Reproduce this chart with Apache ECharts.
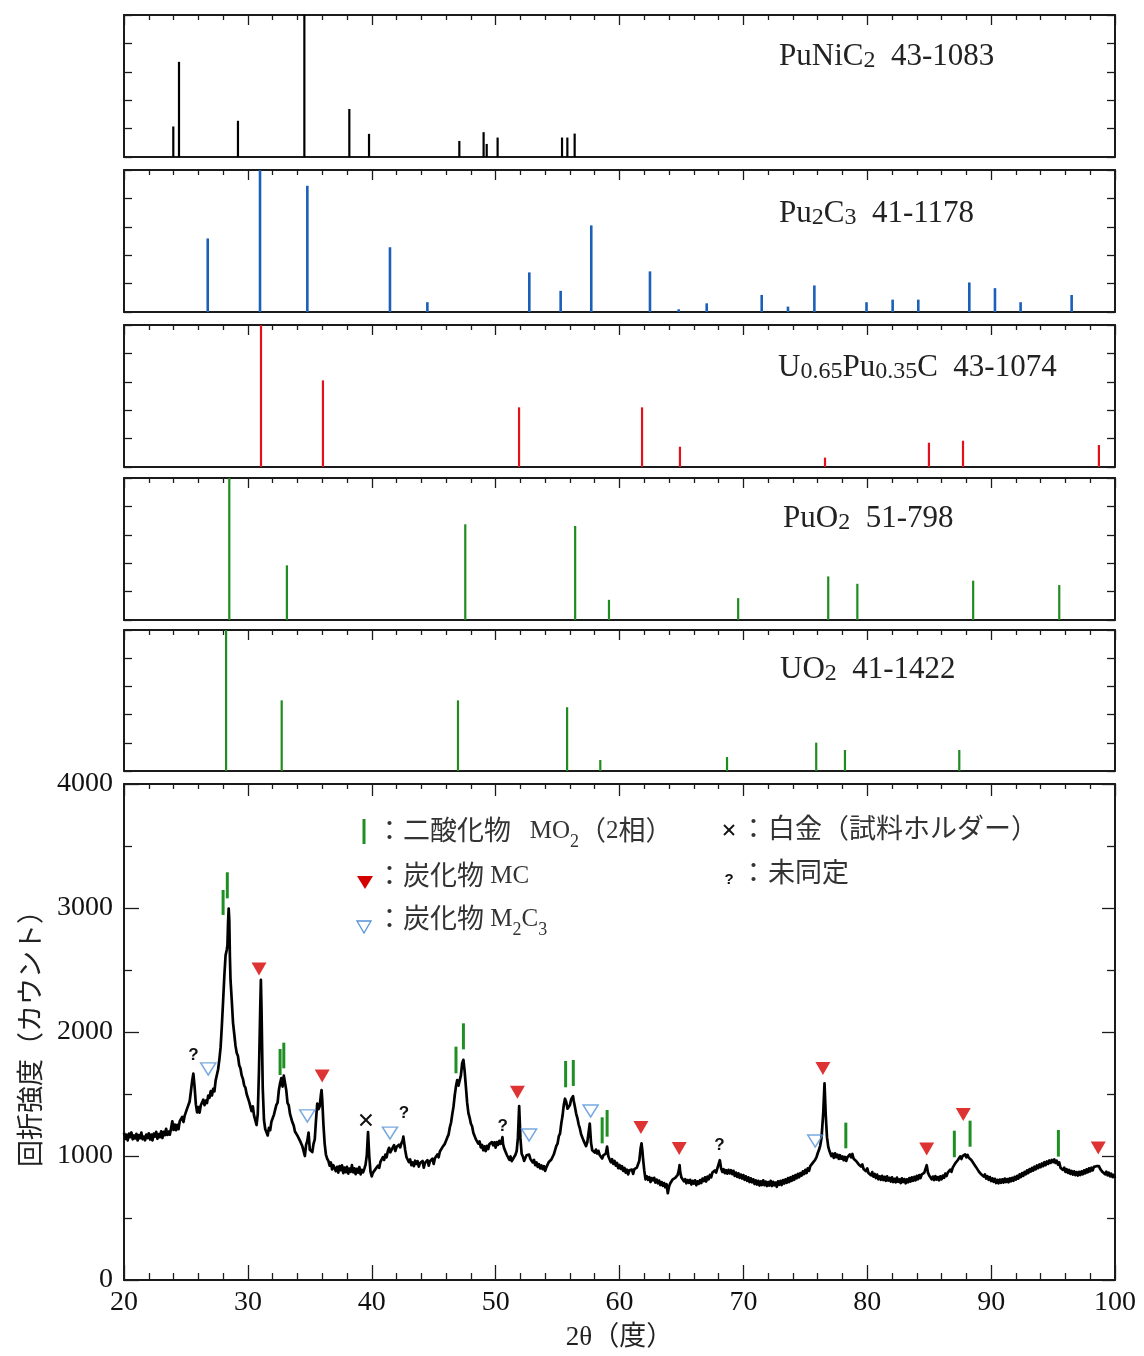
<!DOCTYPE html>
<html>
<head>
<meta charset="utf-8">
<title>XRD</title>
<script src="https://cdn.jsdelivr.net/npm/echarts@6/dist/echarts.min.js"></script>
<style>
  html, body { margin: 0; padding: 0; background: #ffffff; }
  #chart { width: 1144px; height: 1356px; }
</style>
</head>
<body>
<div id="chart"></div>
<script>
// ---- Reference stick patterns: [2θ (deg), relative intensity (%)] ----
const puNiC2Peaks = [[23.98, 21.5], [24.44, 67], [29.2, 25.5], [34.56, 100], [38.19, 33.8], [39.78, 16.3],
  [47.07, 11.3], [49.03, 17.5], [49.28, 9.2], [50.16, 13.7], [55.36, 13.7], [55.79, 13.7], [56.38, 16.5]];
const pu2C3Peaks = [[26.76, 51.8], [30.98, 100], [34.8, 88.9], [41.47, 45.6], [44.49, 6.9], [52.72, 27.9],
  [55.25, 14.9], [57.72, 61], [62.46, 28.6], [64.78, 1.9], [67.04, 6.1], [71.48, 12], [73.6, 3.8],
  [75.73, 18.7], [79.94, 6.9], [82.05, 8.7], [84.12, 8.7], [88.24, 20.8], [90.31, 16.8], [92.38, 6.9], [96.5, 12]];
const upcPeaks = [[31.06, 100], [36.06, 61], [51.89, 42], [61.82, 42], [64.88, 14.3], [76.59, 6.6],
  [84.98, 17.1], [87.73, 18.5], [98.7, 15.5]];
const puO2Peaks = [[28.5, 100], [33.15, 38.5], [47.55, 67.4], [56.42, 66.2], [59.15, 14.2], [69.58, 15.4],
  [76.85, 30.7], [79.2, 25.5], [88.55, 27.7], [95.5, 24.6]];
const uO2Peaks = [[28.24, 100], [32.73, 50.1], [46.96, 50.1], [55.77, 45.2], [58.45, 7.8], [68.68, 9.9],
  [75.88, 20.1], [78.2, 14.9], [87.43, 14.9]];

// ---- Measured pattern: [2θ (deg), counts] ----
const scanPattern = [
  [20.0,1188],[20.1,1138],[20.2,1172],[20.3,1126],[20.4,1180],[20.5,1152],[20.6,1190],[20.7,1134],[20.8,1166],[20.9,1142],
  [21.0,1179],[21.1,1125],[21.2,1169],[21.3,1143],[21.4,1189],[21.5,1135],[21.6,1157],[21.7,1127],[21.8,1173],[21.9,1145],
  [22.0,1183],[22.1,1133],[22.2,1172],[22.3,1126],[22.4,1180],[22.5,1157],[22.6,1195],[22.7,1139],[22.8,1176],[22.9,1152],
  [23.0,1199],[23.1,1145],[23.2,1194],[23.3,1168],[23.4,1219],[23.5,1170],[23.6,1197],[23.7,1172],[23.8,1223],[23.9,1280],
  [24.0,1210],[24.1,1253],[24.2,1208],[24.3,1252],[24.4,1216],[24.5,1280],[24.6,1267],[24.7,1315],[24.8,1274],[24.9,1326],
  [25.0,1322],[25.1,1384],[25.2,1370],[25.3,1440],[25.4,1520],[25.5,1604],[25.6,1665],[25.7,1556],[25.8,1418],[25.9,1352],
  [26.0,1395],[26.1,1350],[26.2,1409],[26.3,1393],[26.4,1454],[26.5,1410],[26.6,1447],[26.7,1427],[26.8,1488],[26.9,1470],
  [27.0,1523],[27.1,1488],[27.2,1542],[27.3,1521],[27.4,1610],[27.5,1622],[27.6,1700],[27.7,1780],[27.8,1878],[27.9,2052],
  [28.0,2248],[28.1,2452],[28.2,2618],[28.3,2664],[28.35,2702],[28.4,2880],[28.45,2995],[28.5,2902],[28.55,2604],[28.6,2418],
  [28.7,2254],[28.8,2076],[28.9,1984],[29.0,1890],[29.1,1830],[29.2,1806],[29.3,1732],[29.4,1708],[29.5,1650],[29.6,1622],
  [29.7,1570],[29.8,1552],[29.9,1500],[30.0,1506],[30.1,1438],[30.2,1436],[30.3,1362],[30.4,1400],[30.5,1326],[30.6,1330],
  [30.7,1250],[30.8,1340],[30.9,1700],[31.0,2204],[31.05,2420],[31.1,2196],[31.2,1548],[31.3,1290],[31.4,1218],[31.5,1210],
  [31.6,1166],[31.7,1226],[31.8,1208],[31.9,1276],[32.0,1280],[32.1,1332],[32.2,1340],[32.3,1412],[32.4,1430],[32.5,1530],
  [32.6,1586],[32.7,1628],[32.8,1560],[32.9,1648],[33.0,1650],[33.1,1530],[33.2,1428],[33.3,1408],[33.4,1340],[33.5,1330],
  [33.6,1270],[33.7,1246],[33.8,1198],[33.9,1210],[34.0,1164],[34.1,1176],[34.2,1124],[34.3,1126],[34.4,1078],[34.5,1074],
  [34.6,1000],[34.7,1090],[34.8,1124],[34.9,1188],[35.0,1050],[35.1,1040],[35.2,1032],[35.3,1098],[35.4,1134],[35.5,1290],
  [35.6,1422],[35.7,1378],[35.8,1402],[35.9,1498],[35.95,1532],[36.0,1458],[36.1,1252],[36.2,1098],[36.3,1012],[36.4,978],
  [36.5,960],[36.6,922],[36.7,948],[36.8,892],[36.9,926],[37.0,930],[37.1,878],[37.2,912],[37.3,866],[37.4,918],
  [37.5,886],[37.6,924],[37.7,862],[37.8,906],[37.9,870],[38.0,912],[38.1,858],[38.2,898],[38.3,872],[38.4,926],
  [38.5,868],[38.6,900],[38.7,854],[38.8,896],[38.9,866],[39.0,910],[39.1,852],[39.2,888],[39.3,868],[39.4,896],
  [39.5,930],[39.6,1004],[39.7,1192],[39.8,996],[39.9,872],[40.0,836],[40.1,866],[40.2,852],[40.3,894],[40.4,878],
  [40.5,922],[40.6,904],[40.7,952],[40.8,942],[40.9,990],[41.0,968],[41.1,1012],[41.2,990],[41.3,1040],[41.4,1066],
  [41.5,1030],[41.6,1050],[41.7,1046],[41.8,1088],[41.9,1040],[42.0,1072],[42.1,1058],[42.2,1092],[42.3,1070],[42.4,1104],
  [42.5,1126],[42.55,1156],[42.6,1120],[42.7,1048],[42.8,992],[42.9,988],[43.0,950],[43.1,972],[43.2,926],[43.3,948],
  [43.4,918],[43.5,962],[43.6,936],[43.7,958],[43.8,914],[43.9,944],[44.0,930],[44.1,960],[44.2,906],[44.3,944],
  [44.4,928],[44.5,966],[44.6,922],[44.7,958],[44.8,948],[44.9,978],[45.0,936],[45.1,982],[45.2,970],[45.3,1012],
  [45.4,990],[45.5,1036],[45.6,1022],[45.7,1070],[45.8,1058],[45.9,1098],[46.0,1104],[46.1,1150],[46.2,1172],[46.3,1230],
  [46.4,1268],[46.5,1336],[46.6,1398],[46.7,1490],[46.8,1562],[46.9,1612],[47.0,1568],[47.1,1556],[47.2,1652],[47.3,1748],
  [47.4,1776],[47.5,1682],[47.6,1558],[47.7,1432],[47.8,1348],[47.9,1310],[48.0,1262],[48.1,1240],[48.2,1188],[48.3,1176],
  [48.4,1136],[48.5,1146],[48.6,1100],[48.7,1118],[48.8,1070],[48.9,1090],[49.0,1046],[49.1,1078],[49.2,1040],[49.3,1082],
  [49.4,1056],[49.5,1096],[49.6,1080],[49.7,1112],[49.8,1086],[49.9,1110],[50.0,1068],[50.1,1112],[50.2,1090],[50.3,1122],
  [50.4,1098],[50.5,1128],[50.55,1152],[50.6,1096],[50.7,1058],[50.8,1044],[50.9,1010],[51.0,1008],[51.1,970],[51.2,996],
  [51.3,958],[51.4,976],[51.5,968],[51.6,1010],[51.7,1040],[51.8,1148],[51.9,1402],[52.0,1146],[52.1,1018],[52.2,996],
  [52.3,960],[52.4,984],[52.5,1006],[52.6,990],[52.7,1012],[52.8,978],[52.9,980],[53.0,948],[53.1,968],[53.2,926],
  [53.3,948],[53.4,912],[53.5,934],[53.6,900],[53.7,924],[53.8,894],[53.9,918],[54.0,880],[54.1,910],[54.2,916],
  [54.3,952],[54.4,936],[54.5,972],[54.6,978],[54.7,1014],[54.8,1030],[54.9,1082],[55.0,1100],[55.1,1160],[55.2,1180],
  [55.3,1262],[55.4,1322],[55.5,1410],[55.6,1462],[55.7,1436],[55.8,1382],[55.9,1368],[56.0,1412],[56.1,1458],[56.2,1470],
  [56.25,1482],[56.3,1448],[56.4,1398],[56.5,1342],[56.6,1306],[56.7,1256],[56.8,1222],[56.9,1176],[57.0,1160],[57.1,1124],
  [57.2,1118],[57.3,1080],[57.4,1110],[57.5,1120],[57.6,1262],[57.7,1108],[57.8,1046],[57.9,1060],[58.0,1028],[58.1,1052],
  [58.2,1020],[58.3,1042],[58.4,1008],[58.5,1020],[58.6,980],[58.7,1006],[58.8,996],[58.9,1020],[59.0,1076],[59.1,998],
  [59.2,986],[59.3,950],[59.4,974],[59.5,936],[59.6,960],[59.7,922],[59.8,944],[59.9,902],[60.0,928],[60.1,896],
  [60.2,918],[60.3,880],[60.4,904],[60.5,866],[60.6,890],[60.7,852],[60.8,884],[60.9,868],[61.0,890],[61.1,856],
  [61.2,894],[61.3,880],[61.4,906],[61.5,896],[61.6,962],[61.7,1058],[61.78,1102],[61.85,1040],[61.9,978],[62.0,882],
  [62.1,812],[62.2,836],[62.3,808],[62.4,830],[62.5,790],[62.6,822],[62.7,804],[62.8,824],[62.9,786],[63.0,810],
  [63.1,780],[63.2,802],[63.3,766],[63.4,790],[63.5,760],[63.6,782],[63.7,748],[63.8,772],[63.9,700],[64.0,754],
  [64.1,780],[64.2,770],[64.3,812],[64.4,796],[64.5,824],[64.6,812],[64.7,848],[64.8,890],[64.85,926],[64.9,870],
  [65.0,826],[65.1,818],[65.2,796],[65.3,814],[65.4,780],[65.5,806],[65.6,784],[65.7,808],[65.8,770],[65.9,800],
  [66.0,778],[66.1,804],[66.2,764],[66.3,796],[66.4,776],[66.5,806],[66.6,782],[66.7,818],[66.8,798],[66.9,828],
  [67.0,794],[67.1,834],[67.2,812],[67.3,848],[67.4,828],[67.5,866],[67.6,850],[67.7,884],[67.8,866],[67.9,900],
  [68.0,890],[68.1,966],[68.2,900],[68.3,872],[68.4,894],[68.5,862],[68.6,886],[68.7,858],[68.8,888],[68.9,860],
  [69.0,886],[69.1,854],[69.2,880],[69.3,840],[69.4,866],[69.5,832],[69.6,860],[69.7,824],[69.8,850],[69.9,818],
  [70.0,846],[70.1,808],[70.2,836],[70.3,800],[70.4,828],[70.5,790],[70.6,820],[70.7,788],[70.8,812],[70.9,774],
  [71.0,804],[71.1,770],[71.2,800],[71.3,762],[71.4,796],[71.5,766],[71.6,804],[71.7,764],[71.8,794],[71.9,758],
  [72.0,790],[72.1,762],[72.2,800],[72.3,758],[72.4,792],[72.5,764],[72.6,786],[72.7,752],[72.8,796],[72.9,768],
  [73.0,800],[73.1,766],[73.2,806],[73.3,778],[73.4,812],[73.5,784],[73.6,822],[73.7,790],[73.8,828],[73.9,800],
  [74.0,838],[74.1,808],[74.2,846],[74.3,820],[74.4,856],[74.5,828],[74.6,862],[74.7,842],[74.8,876],[74.9,854],
  [75.0,888],[75.1,862],[75.2,900],[75.3,880],[75.4,918],[75.5,904],[75.6,944],[75.7,940],[75.8,970],[75.9,990],
  [76.0,1022],[76.1,1048],[76.2,1082],[76.3,1140],[76.35,1204],[76.45,1352],[76.55,1586],[76.65,1328],[76.75,1152],[76.85,1076],
  [76.95,1040],[77.0,1028],[77.1,1000],[77.2,1018],[77.3,984],[77.4,1022],[77.5,990],[77.6,1010],[77.7,976],[77.8,1006],
  [77.9,978],[78.0,996],[78.1,966],[78.2,992],[78.3,960],[78.4,990],[78.5,978],[78.6,1012],[78.7,990],[78.8,1016],
  [78.9,978],[79.0,994],[79.1,960],[79.2,972],[79.3,934],[79.4,950],[79.5,914],[79.6,932],[79.7,896],[79.8,912],
  [79.9,878],[80.0,900],[80.1,862],[80.2,876],[80.3,844],[80.4,870],[80.5,834],[80.6,856],[80.7,822],[80.8,850],
  [80.9,812],[81.0,836],[81.1,808],[81.2,840],[81.3,806],[81.4,832],[81.5,800],[81.6,836],[81.7,802],[81.8,824],
  [81.9,794],[82.0,828],[82.1,790],[82.2,816],[82.3,788],[82.4,826],[82.5,792],[82.6,812],[82.7,782],[82.8,820],
  [82.9,790],[83.0,814],[83.1,780],[83.2,812],[83.3,788],[83.4,822],[83.5,794],[83.6,828],[83.7,800],[83.8,832],
  [83.9,804],[84.0,840],[84.1,812],[84.2,846],[84.3,822],[84.4,852],[84.5,838],[84.6,864],[84.7,880],[84.8,926],
  [84.9,866],[84.95,852],[85.0,842],[85.1,846],[85.2,812],[85.3,834],[85.4,806],[85.5,838],[85.6,810],[85.7,830],
  [85.8,804],[85.9,836],[86.0,812],[86.1,842],[86.2,824],[86.3,858],[86.4,838],[86.5,866],[86.6,852],[86.7,890],
  [86.8,872],[86.9,906],[87.0,900],[87.1,940],[87.2,932],[87.3,966],[87.4,960],[87.5,996],[87.6,976],[87.7,1000],
  [87.8,986],[87.9,1012],[88.0,990],[88.1,1008],[88.2,986],[88.3,1002],[88.4,968],[88.5,972],[88.6,938],[88.7,948],
  [88.8,908],[88.9,912],[89.0,876],[89.1,888],[89.2,852],[89.3,866],[89.4,834],[89.5,852],[89.6,818],[89.7,838],
  [89.8,808],[89.9,830],[90.0,798],[90.1,820],[90.2,792],[90.3,816],[90.4,782],[90.5,808],[90.6,780],[90.7,810],
  [90.8,784],[90.9,812],[91.0,786],[91.1,818],[91.2,790],[91.3,814],[91.4,788],[91.5,820],[91.6,796],[91.7,824],
  [91.8,800],[91.9,832],[92.0,810],[92.1,840],[92.2,818],[92.3,852],[92.4,830],[92.5,862],[92.6,840],[92.7,872],
  [92.8,852],[92.9,884],[93.0,862],[93.1,894],[93.2,874],[93.3,904],[93.4,882],[93.5,914],[93.6,892],[93.7,924],
  [93.8,902],[93.9,932],[94.0,910],[94.1,940],[94.2,918],[94.3,950],[94.4,926],[94.5,956],[94.6,936],[94.7,964],
  [94.8,944],[94.9,968],[95.0,950],[95.1,972],[95.2,944],[95.3,962],[95.4,930],[95.5,948],[95.6,906],[95.7,920],
  [95.8,888],[95.9,906],[96.0,872],[96.1,894],[96.2,864],[96.3,888],[96.4,856],[96.5,880],[96.6,850],[96.7,876],
  [96.8,846],[96.9,870],[97.0,842],[97.1,872],[97.2,846],[97.3,876],[97.4,852],[97.5,884],[97.6,860],[97.7,892],
  [97.8,868],[97.9,900],[98.0,876],[98.1,906],[98.2,884],[98.3,912],[98.4,896],[98.5,918],[98.6,910],[98.65,932],
  [98.7,918],[98.8,896],[98.9,900],[99.0,870],[99.1,886],[99.2,852],[99.3,874],[99.4,844],[99.5,866],[99.6,836],
  [99.7,858],[99.8,830],[99.9,848],[100.0,822]
];

// ---- Peak assignments on the measured pattern ----
// MO2 (two phases): [2θ, lower end, upper end] of each short bar
const mo2Marks = [[28.0, 2944, 3145], [28.34, 3078, 3288], [32.6, 1653, 1863], [32.9, 1707, 1914],
  [46.8, 1667, 1882], [47.4, 1860, 2070], [55.65, 1554, 1766], [56.27, 1565, 1774], [58.6, 1102, 1312],
  [59.0, 1156, 1371], [78.27, 1062, 1269], [87.03, 990, 1204], [88.3, 1075, 1285], [95.43, 995, 1210]];
// MC carbide (filled triangles)
const mcMarks = [[30.9, 2508], [36.0, 1645], [51.76, 1515], [61.73, 1230], [64.82, 1060], [76.42, 1705],
  [84.8, 1056], [87.75, 1335], [98.65, 1065]];
// M2C3 carbide (open triangles)
const m2c3Marks = [[26.8, 1702], [34.8, 1323], [41.47, 1185], [52.7, 1169], [57.67, 1363], [75.8, 1121]];
// platinum sample holder
const ptMarks = [[39.53, 1290]];
// unidentified
const unknownMarks = [[25.6, 1815], [42.6, 1345], [50.57, 1237], [68.06, 1090]];

// ---- Axis ranges ----
const angleRange = [20, 100], angleStep = 10;
const countRange = [0, 4000], countStep = 1000;
const relRange = [0, 100], relStep = 20;

// ---- Styling ----
const SERIF = "'Liberation Serif','Times New Roman',serif";
const MIXED = "'Liberation Serif','Noto Sans CJK JP',sans-serif";
const AXIS = '#1b1b1b';
const GREEN = '#1f8f24';
const RED = '#d40000';
const BLUE = '#5593d8';

const refPanels = [
  { peaks: puNiC2Peaks, color: '#000000', width: 2.2, top: 15, height: 142,
    text: '{t|PuNiC}{s|2}{t|  43-1083}', lx: 779, ly: 57 },
  { peaks: pu2C3Peaks, color: '#1a5fb8', width: 2.6, top: 170, height: 142,
    text: '{t|Pu}{s|2}{t|C}{s|3}{t|  41-1178}', lx: 779, ly: 214 },
  { peaks: upcPeaks, color: '#e3111b', width: 2.2, top: 325, height: 142,
    text: '{t|U}{s|0.65}{t|Pu}{s|0.35}{t|C  43-1074}', lx: 778, ly: 368 },
  { peaks: puO2Peaks, color: '#1e8c1e', width: 2.2, top: 478, height: 142,
    text: '{t|PuO}{s|2}{t|  51-798}', lx: 783, ly: 519 },
  { peaks: uO2Peaks, color: '#1e8c1e', width: 2.2, top: 630, height: 141,
    text: '{t|UO}{s|2}{t|  41-1422}', lx: 780, ly: 670 }
];
const mainBox = { top: 784, height: 496 };

const grids = [], xAxes = [], yAxes = [], series = [], graphics = [];

function addFrame(gi, main) {
  const frameLine = { show: true, onZero: false, lineStyle: { color: AXIS, width: 2 } };
  const tickStyle = { color: AXIS, width: 1.3 };
  const base = { type: 'value', gridIndex: gi, splitLine: { show: false }, minorSplitLine: { show: false } };
  xAxes.push(Object.assign({}, base, {
    position: 'bottom', min: angleRange[0], max: angleRange[1], interval: angleStep,
    axisLine: frameLine,
    axisTick: { show: main, inside: true, length: 15, lineStyle: tickStyle },
    minorTick: { show: main, splitNumber: 5, length: 7, lineStyle: tickStyle },
    axisLabel: { show: main, margin: 9, fontFamily: SERIF, fontSize: 28, color: '#111',
      formatter: (v) => String(v) },
    name: main ? '2θ（度）' : '', nameLocation: 'middle', nameGap: 44,
    nameTextStyle: { fontFamily: MIXED, fontSize: 27, color: '#222' }
  }));
  xAxes.push(Object.assign({}, base, {
    position: 'top', min: angleRange[0], max: angleRange[1], interval: angleStep,
    axisLine: frameLine,
    axisTick: { show: true, inside: true, length: main ? 12 : 10, lineStyle: tickStyle },
    minorTick: { show: true, splitNumber: 5, length: 5, lineStyle: tickStyle },
    axisLabel: { show: false }
  }));
  const yr = main ? countRange : relRange;
  const ys = main ? countStep : relStep;
  yAxes.push(Object.assign({}, base, {
    position: 'left', min: yr[0], max: yr[1], interval: ys,
    axisLine: frameLine,
    axisTick: { show: true, inside: true, length: main ? 15 : 8, lineStyle: tickStyle },
    minorTick: { show: main, splitNumber: 2, length: 8, lineStyle: tickStyle },
    axisLabel: { show: main, margin: 11, fontFamily: SERIF, fontSize: 28, color: '#111',
      formatter: (v) => String(v) },
    name: main ? '回折強度（カウント）' : '', nameLocation: 'middle', nameGap: 75, nameRotate: 90,
    nameTextStyle: { fontFamily: MIXED, fontSize: 27, color: '#222' }
  }));
  yAxes.push(Object.assign({}, base, {
    position: 'right', min: yr[0], max: yr[1], interval: ys,
    axisLine: frameLine,
    axisTick: { show: true, inside: true, length: main ? 13 : 8, lineStyle: tickStyle },
    minorTick: { show: main, splitNumber: 2, length: 8, lineStyle: tickStyle },
    axisLabel: { show: false }
  }));
}

// reference panels
refPanels.forEach((p, i) => {
  grids.push({ left: 124, right: 29, top: p.top, height: p.height, outerBoundsMode: 'none' });
  addFrame(i, false);
  series.push({
    type: 'custom', xAxisIndex: 2 * i, yAxisIndex: 2 * i, data: p.peaks, silent: true, animation: false, z: 3,
    renderItem: (params, api) => {
      const a = api.coord([api.value(0), 0]);
      const b = api.coord([api.value(0), api.value(1)]);
      return { type: 'line', shape: { x1: a[0], y1: a[1], x2: b[0], y2: b[1] },
        style: { stroke: p.color, lineWidth: p.width } };
    }
  });
  graphics.push({
    type: 'text', x: p.lx, y: p.ly, z: 10,
    style: {
      text: p.text, fill: '#222', verticalAlign: 'middle',
      rich: {
        t: { fontFamily: SERIF, fontSize: 31, lineHeight: 31, fill: '#222' },
        s: { fontFamily: SERIF, fontSize: 24, lineHeight: 24, verticalAlign: 'bottom', fill: '#222' }
      }
    }
  });
});

// measured pattern panel
const MG = refPanels.length;
grids.push({ left: 124, right: 29, top: mainBox.top, height: mainBox.height, outerBoundsMode: 'none' });
addFrame(MG, true);
const mx = 2 * MG, my = 2 * MG;

series.push({
  type: 'line', xAxisIndex: mx, yAxisIndex: my, data: scanPattern, showSymbol: false, symbol: 'none',
  lineStyle: { color: '#000', width: 2.7, join: 'round' }, animation: false, silent: true, z: 3
});
series.push({
  type: 'custom', xAxisIndex: mx, yAxisIndex: my, data: mo2Marks, encode: { x: 0, y: [1, 2] },
  silent: true, animation: false, z: 5,
  renderItem: (params, api) => {
    const a = api.coord([api.value(0), api.value(1)]);
    const b = api.coord([api.value(0), api.value(2)]);
    return { type: 'line', shape: { x1: a[0], y1: a[1], x2: b[0], y2: b[1] },
      style: { stroke: GREEN, lineWidth: 3 } };
  }
});
series.push({
  type: 'scatter', xAxisIndex: mx, yAxisIndex: my, data: mcMarks, symbol: 'triangle',
  symbolSize: [15, 13], symbolRotate: 180, itemStyle: { color: RED }, silent: true, animation: false, z: 6
});
series.push({
  type: 'scatter', xAxisIndex: mx, yAxisIndex: my, data: m2c3Marks, symbol: 'triangle',
  symbolSize: [15, 12], symbolRotate: 180,
  itemStyle: { color: 'rgba(255,255,255,0)', borderColor: BLUE, borderWidth: 1.5 }, silent: true, animation: false, z: 6
});
series.push({
  type: 'custom', xAxisIndex: mx, yAxisIndex: my, data: ptMarks, silent: true, animation: false, z: 6,
  renderItem: (params, api) => {
    const c = api.coord([api.value(0), api.value(1)]);
    const r = 5.5;
    return { type: 'group', children: [
      { type: 'line', shape: { x1: c[0] - r, y1: c[1] - r, x2: c[0] + r, y2: c[1] + r }, style: { stroke: '#111', lineWidth: 2 } },
      { type: 'line', shape: { x1: c[0] - r, y1: c[1] + r, x2: c[0] + r, y2: c[1] - r }, style: { stroke: '#111', lineWidth: 2 } }
    ] };
  }
});
series.push({
  type: 'custom', xAxisIndex: mx, yAxisIndex: my, data: unknownMarks, silent: true, animation: false, z: 6,
  renderItem: (params, api) => {
    const c = api.coord([api.value(0), api.value(1)]);
    return { type: 'text', x: c[0], y: c[1],
      style: { text: '?', fontFamily: "'Liberation Sans',sans-serif", fontSize: 17, fontWeight: 'bold',
        fill: '#111', align: 'center', verticalAlign: 'middle' } };
  }
});

// key for the assignment symbols
const keyRich = {
  c: { fontFamily: MIXED, fontSize: 27, lineHeight: 32, verticalAlign: 'top', fill: '#333' },
  m: { fontFamily: SERIF, fontSize: 25, lineHeight: 32, verticalAlign: 'top', fill: '#333' },
  s: { fontFamily: SERIF, fontSize: 18, lineHeight: 18, verticalAlign: 'bottom', fill: '#333' }
};
function keyText(x, y, text) {
  graphics.push({ type: 'text', x: x, y: y, z: 10,
    style: { text: text, rich: keyRich, verticalAlign: 'middle', fill: '#333' } });
}
graphics.push({ type: 'line', z: 10, shape: { x1: 364, y1: 819, x2: 364, y2: 844 }, style: { stroke: GREEN, lineWidth: 3 } });
keyText(376, 835, '{c|：二酸化物}{m|   MO}{s|2}{c|（}{m|2}{c|相）}');
graphics.push({ type: 'polygon', z: 10, shape: { points: [[357, 876], [373, 876], [365, 889]] }, style: { fill: RED } });
keyText(376, 880, '{c|：炭化物}{m| MC}');
graphics.push({ type: 'polygon', z: 10, shape: { points: [[357, 921], [371, 921], [364, 933]] },
  style: { fill: 'none', stroke: BLUE, lineWidth: 1.3 } });
keyText(376, 923, '{c|：炭化物}{m| M}{s|2}{m|C}{s|3}');
graphics.push({ type: 'group', z: 10, children: [
  { type: 'line', shape: { x1: 724, y1: 825, x2: 734, y2: 835 }, style: { stroke: '#111', lineWidth: 1.8 } },
  { type: 'line', shape: { x1: 724, y1: 835, x2: 734, y2: 825 }, style: { stroke: '#111', lineWidth: 1.8 } }
] });
keyText(740, 833, '{c|：}');
keyText(768, 833, '{c|白金（試料ホルダー）}');
graphics.push({ type: 'text', x: 729, y: 880, z: 10,
  style: { text: '?', fontFamily: "'Liberation Sans',sans-serif", fontSize: 15, fontWeight: 'bold',
    fill: '#111', align: 'center', verticalAlign: 'middle' } });
keyText(740, 877, '{c|：}');
keyText(768, 877, '{c|未同定}');

const chart = echarts.init(document.getElementById('chart'), null, { renderer: 'canvas' });
chart.setOption({
  backgroundColor: '#ffffff',
  animation: false,
  grid: grids,
  xAxis: xAxes,
  yAxis: yAxes,
  series: series,
  graphic: graphics
});
</script>
</body>
</html>
